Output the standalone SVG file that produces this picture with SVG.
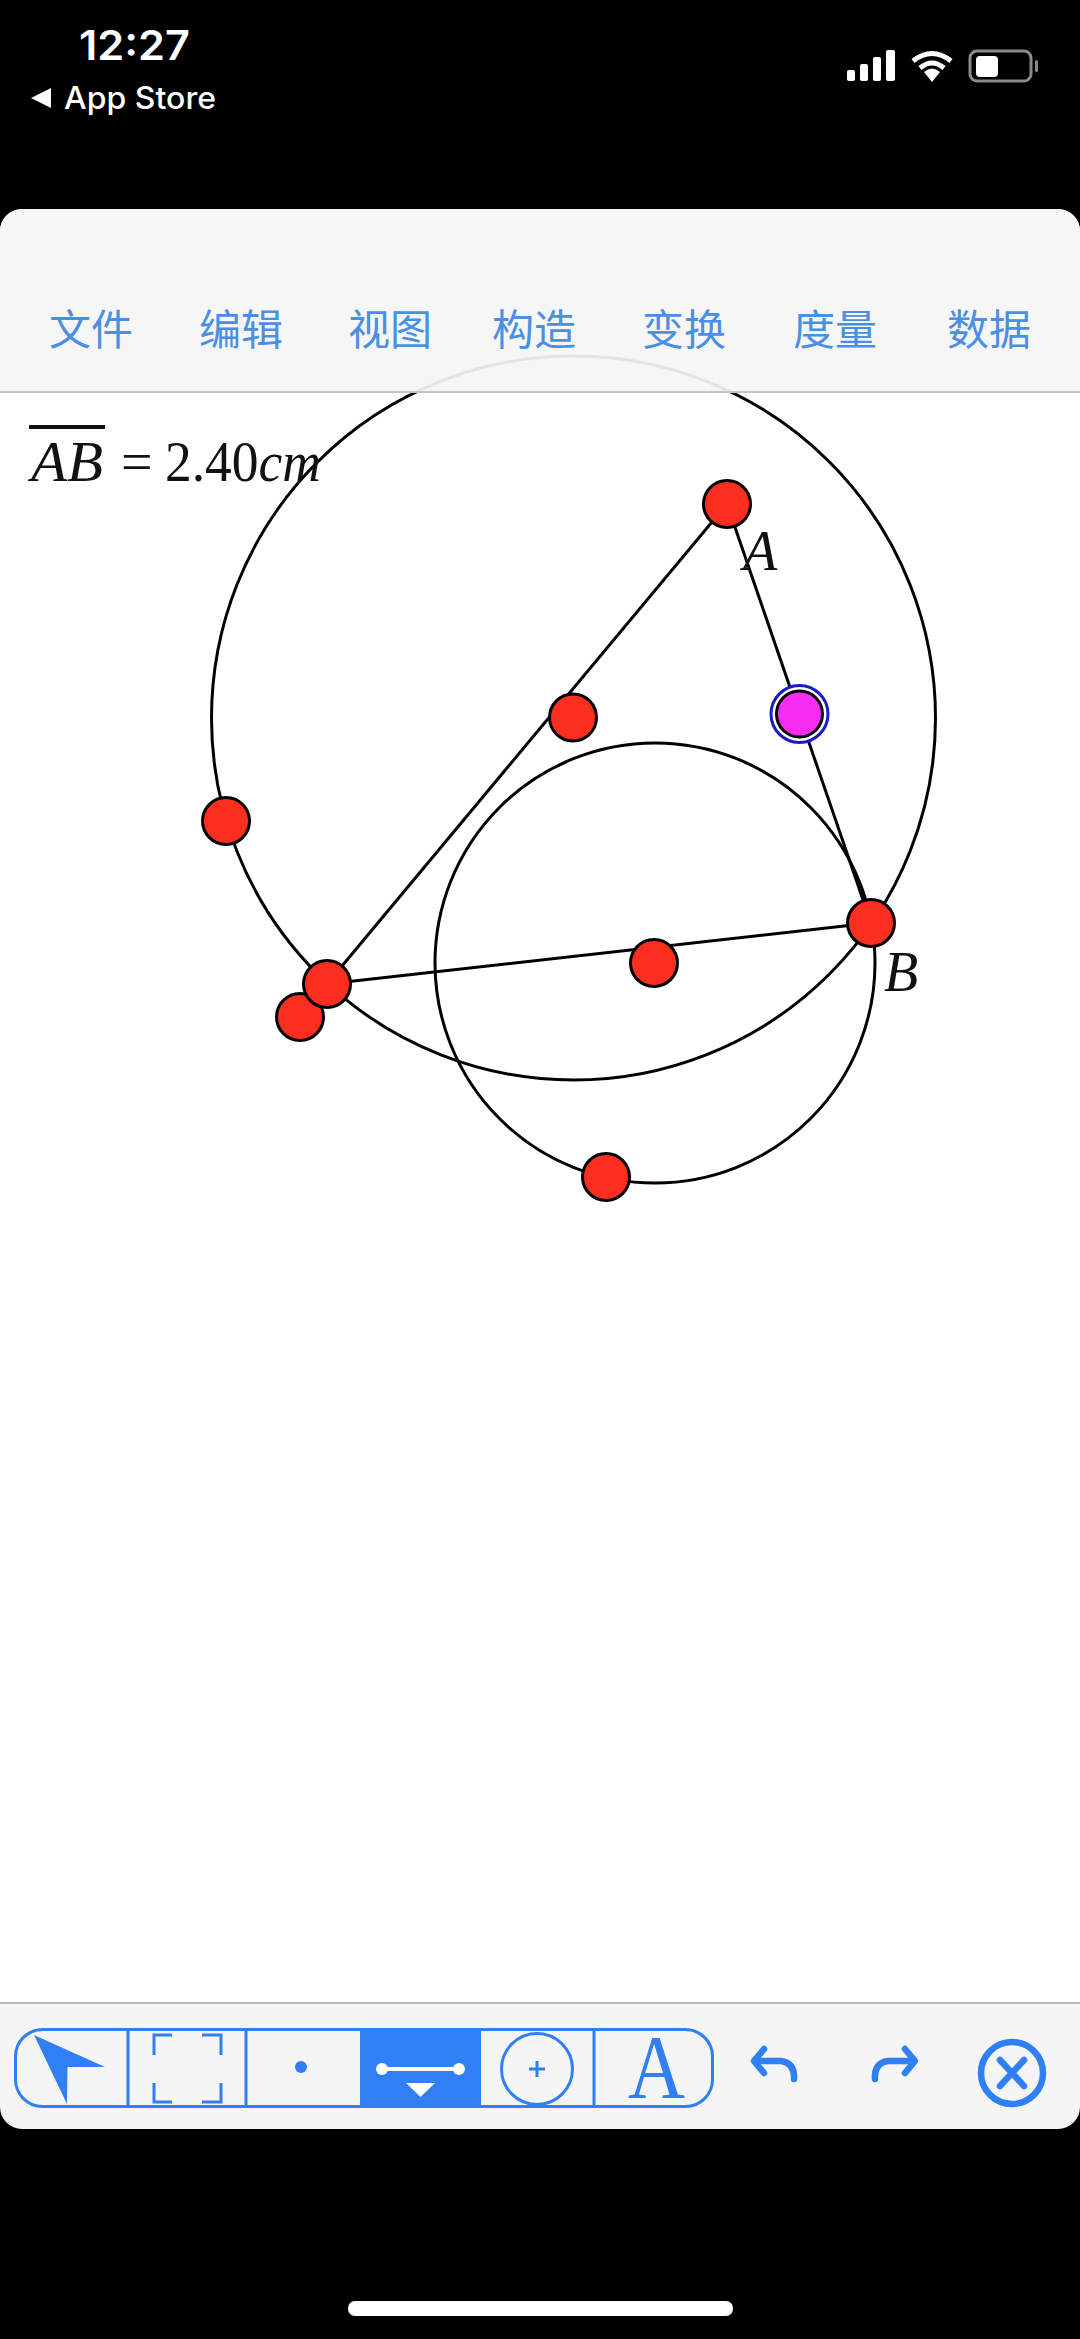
<svg xmlns="http://www.w3.org/2000/svg" width="1080" height="2339" viewBox="0 0 1080 2339">
<style>
.menu{font-family:"Noto Sans CJK SC","Noto Sans",sans-serif;font-size:42px;fill:#4a8fe4;text-anchor:middle}
.math{font-family:"Liberation Serif",serif;font-style:italic;fill:#111}
.st{font-family:"Inter","Roboto",sans-serif;fill:#fff}
.geo{fill:none;stroke:#000;stroke-width:3}
.pt{fill:#fb2f20;stroke:#000;stroke-width:3}
.tb{fill:none;stroke:#2f7ff5;stroke-width:3}
.ic{fill:none;stroke:#2f7ff5;stroke-width:6.5;stroke-linecap:round;stroke-linejoin:round}
</style>
<rect width="1080" height="2339" fill="#000"/>
<rect x="0" y="209" width="1080" height="1920" rx="22" fill="#f5f5f6"/>
<rect x="0" y="392" width="1080" height="1611" fill="#fff"/>
<g id="connectors">
<circle class="geo" cx="573.5" cy="718" r="362"/>
<circle class="geo" cx="655" cy="963" r="220"/>
<line class="geo" x1="727" y1="504" x2="327" y2="984"/>
<line class="geo" x1="727" y1="504" x2="871" y2="923"/>
<line class="geo" x1="327" y1="984" x2="871" y2="923"/>
</g>
<g id="menubar">
<path d="M0 392V231a22 22 0 0 1 22-22H1058a22 22 0 0 1 22 22V392Z" fill="#f5f5f6" opacity=".93"/>
<rect x="0" y="391" width="1080" height="2" fill="#c4c4c6"/>
<text class="menu" x="91" y="345">文件</text>
<text class="menu" x="241" y="345">编辑</text>
<text class="menu" x="390" y="345">视图</text>
<text class="menu" x="534" y="345">构造</text>
<text class="menu" x="684" y="345">变换</text>
<text class="menu" x="835" y="345">度量</text>
<text class="menu" x="989" y="345">数据</text>
</g>
<g id="measure">
<rect x="29" y="425" width="76" height="4" fill="#111"/>
<text class="math" x="31" y="481" font-size="56" textLength="72" lengthAdjust="spacingAndGlyphs">AB</text>
<text class="math" x="121" y="481" font-size="56" style="font-style:normal">=</text>
<text class="math" x="165" y="481" font-size="56" textLength="156" lengthAdjust="spacingAndGlyphs"><tspan style="font-style:normal">2.40</tspan>cm</text>
</g>
<g id="node-a"><circle class="pt" cx="727" cy="504" r="23.5"/><text class="math" x="743" y="570" font-size="56">A</text></g>
<g id="node-mid-ac"><circle class="pt" cx="573" cy="717.5" r="23.5"/></g>
<g id="node-magenta"><circle cx="799.5" cy="714" r="28.5" fill="#fff" stroke="#1a1ac8" stroke-width="3"/><circle cx="799.5" cy="714" r="23" fill="#f82cf0" stroke="#000" stroke-width="3"/></g>
<g id="node-left"><circle class="pt" cx="226" cy="821" r="23.5"/></g>
<g id="node-d"><circle class="pt" cx="300" cy="1017" r="23.5"/></g>
<g id="node-c"><circle class="pt" cx="327" cy="984" r="23.5"/></g>
<g id="node-mid-bc"><circle class="pt" cx="654" cy="963" r="23.5"/></g>
<g id="node-b"><circle class="pt" cx="871" cy="923" r="23.5"/><text class="math" x="884" y="991" font-size="56">B</text></g>
<g id="node-bottom"><circle class="pt" cx="606" cy="1177" r="23.5"/></g>
<g id="statusbar">
<text class="st" x="79" y="60" font-size="41" font-weight="600" textLength="111" lengthAdjust="spacingAndGlyphs">12:27</text>
<path d="M31 98L51 88V108Z" fill="#fff"/>
<text class="st" x="64" y="109" font-size="31" font-weight="500" textLength="152" lengthAdjust="spacingAndGlyphs">App Store</text>
<g fill="#fff">
<rect x="847" y="70" width="8" height="11" rx="2"/><rect x="860" y="64" width="8" height="17" rx="2"/><rect x="873" y="57" width="8" height="24" rx="2"/><rect x="886" y="50" width="9" height="31" rx="2"/>
<path d="M932 82L924 72Q932 65 940 72Z"/>
</g>
<g fill="none" stroke="#fff" stroke-width="5"><path d="M913 61Q932 46 951 61"/><path d="M920 68Q932 58 944 68"/></g>
<rect x="970" y="51" width="61" height="30" rx="7" fill="none" stroke="#8a8a8a" stroke-width="3"/>
<rect x="976" y="56" width="22" height="21" rx="4" fill="#fff"/>
<rect x="1035" y="60" width="3" height="12" rx="1.5" fill="#8a8a8a"/>
</g>
<g id="toolbar">
<rect x="0" y="2002" width="1080" height="2" fill="#b9b9bb"/>
<rect x="360" y="2028" width="121" height="80" fill="#2f7ff5"/>
<rect class="tb" x="15.500" y="2029.500" width="697" height="77" rx="27"/>
<path class="tb" d="M128 2030V2106M246 2030V2106M594 2030V2106"/>
<path d="M34 2035L105 2067H67.500L67 2104Z" fill="#2f7ff5"/>
<path class="tb" stroke-width="4" d="M172 2035H154V2055M202 2035H221V2055M154 2083V2102H172M221 2083V2102H202"/>
<circle cx="301" cy="2067" r="6" fill="#2f7ff5"/>
<path d="M381 2069H460" stroke="#fff" stroke-width="4"/>
<circle cx="382" cy="2069" r="6" fill="#fff"/><circle cx="459" cy="2069" r="6" fill="#fff"/>
<path d="M406 2083H435L420.500 2097Z" fill="#fff"/>
<circle class="tb" cx="537" cy="2069" r="35.500"/>
<path class="tb" d="M529 2069H545M537 2061V2077"/>
<text x="628" y="2098" font-family="Liberation Serif,serif" font-size="90" fill="#2f7ff5" textLength="57" lengthAdjust="spacingAndGlyphs">A</text>
<path class="ic" d="M764 2049L754 2061L764 2073M757 2061H781Q795 2063 794 2079"/>
<path class="ic" d="M905 2049L915 2061L905 2073M912 2061H888Q874 2063 875 2079"/>
<circle cx="1012" cy="2073" r="31" fill="none" stroke="#2f7ff5" stroke-width="6.500"/>
<path class="ic" d="M1000 2060L1024 2086M1024 2060L1000 2086"/>
</g>
<rect id="home-indicator" x="348" y="2301" width="385" height="15" rx="7" fill="#fff"/>
</svg>
